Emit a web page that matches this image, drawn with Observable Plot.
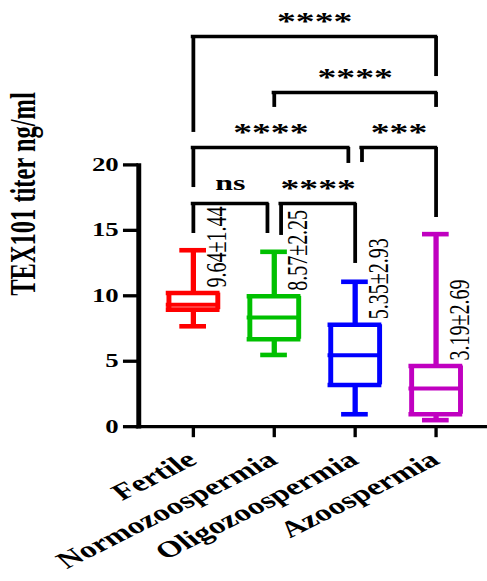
<!DOCTYPE html>
<html><head><meta charset="utf-8">
<script src="https://cdn.jsdelivr.net/npm/d3@7"></script>
<script src="https://cdn.jsdelivr.net/npm/@observablehq/plot@0.6"></script>
<style>
html,body{margin:0;padding:0;background:#fff;}
#chart{width:487px;height:581px;overflow:hidden;}
#chart svg{transform:scaleX(1.45);transform-origin:0 0;display:block;}
</style></head><body><div id="chart"></div>
<script>
// ---- data ----
const groups = ["Fertile", "Normozoospermia", "Oligozoospermia", "Azoospermia"];
const colors = ["#ff0000", "#00c000", "#0000ff", "#c000c0"];
const whiskerMin = [7.67, 5.48, 0.95, 0.50];
const q1 = [8.94, 6.68, 3.19, 0.95];
const median = [9.32, 8.34, 5.46, 2.92];
const q3 = [10.21, 9.96, 7.79, 4.64];
const whiskerMax = [13.48, 13.36, 11.07, 14.71];
const statLabels = ["9.64±1.44", "8.57±2.25", "5.35±2.93", "3.19±2.69"];
const yTicks = [0, 5, 10, 15, 20];
const yTitle = "TEX101 titer ng/ml";
const bracketFrom = ["Fertile", "Normozoospermia", "Fertile", "Oligozoospermia", "Fertile", "Normozoospermia"];
const bracketTo = ["Azoospermia", "Azoospermia", "Oligozoospermia", "Azoospermia", "Normozoospermia", "Oligozoospermia"];
const bracketLevel = [29.81, 25.53, 21.33, 21.33, 17.05, 17.05];
const legFromEnd = [22.48, 24.39, 18.27, 20.18, 14.76, 14.61];
const legToEnd = [26.75, 24.39, 20.11, 15.98, 14.76, 12.47];
const bracketText = ["****", "****", "****", "***", "ns", "****"];

// ---- layout ----
const S = 1.45;               // horizontal stretch of the reference image
const W = 487 / S, H = 581;
const xOpts = {type: "band", domain: groups, range: [95.2, 337.9], paddingInner: 0.396, paddingOuter: 0.373, align: 0.5, round: false};
const xs = Plot.scale({x: xOpts});
const bw = xs.bandwidth;
const center = g => xs.apply(g) + bw / 2;

const rows = groups.map((g, i) => ({group: g, min: whiskerMin[i], q1: q1[i], median: median[i], q3: q3[i], max: whiskerMax[i], label: statLabels[i]}));
const brackets = bracketFrom.map((f, i) => ({from: f, to: bracketTo[i], level: bracketLevel[i], legFrom: legFromEnd[i], legTo: legToEnd[i], text: bracketText[i]}));

const NUDGE = 4.7;
const bracketMarks = brackets.flatMap(b => {
  const nf = brackets.some(o => o !== b && o.level === b.level && o.to === b.from) ? NUDGE : 0;
  const nt = brackets.some(o => o !== b && o.level === b.level && o.from === b.to) ? -NUDGE : 0;
  const mid = (center(b.from) + nf + center(b.to) + nt) / 2 - center(b.from);
  const ns = b.text === "ns";
  return [
    Plot.ruleY([b], {y: "level", x1: "from", x2: "to", insetLeft: bw / 2 + nf - 1.3, insetRight: bw / 2 - nt - 1.3, strokeWidth: 3.3}),
    Plot.ruleX([b], {x: "from", y1: "level", y2: "legFrom", dx: nf, strokeWidth: 2.6}),
    Plot.ruleX([b], {x: "to", y1: "level", y2: "legTo", dx: nt, strokeWidth: 2.6}),
    Plot.text([b], {x: "from", y: "level", text: "text", dx: mid, dy: ns ? -14 : -6.5, lineAnchor: "bottom", fontSize: ns ? 22 : 26})
  ];
});

const capInset = 7.65;
const chart = Plot.plot({
  width: W, height: H,
  marginLeft: 95.2, marginRight: 0, marginTop: 164.4, marginBottom: 154.8,
  x: xOpts,
  y: {domain: [0, 20]},
  color: {domain: groups, range: colors},
  style: {fontFamily: "'Liberation Serif', 'Times New Roman', serif", fontWeight: "bold", background: "white", color: "black", overflow: "visible"},
  marks: [
    Plot.frame({anchor: "left", strokeWidth: 3.4}),
    Plot.ruleY([0], {strokeWidth: 3.3, insetLeft: -1.7}),
    Plot.axisY({ticks: yTicks, tickSize: 10.4, tickPadding: 3.4, fontSize: 18.5, strokeWidth: 3.3, label: null}),
    Plot.axisX({tickSize: 11, strokeWidth: 2.3, tickFormat: () => "", label: null}),
    Plot.text([yTitle], {frameAnchor: "left", dx: -79.4, rotate: -90, fontSize: 24.5}),
    Plot.text(groups, {x: d => d, frameAnchor: "bottom", dy: 36, dx: 3.5, rotate: -36, textAnchor: "end", lineAnchor: "bottom", fontSize: 23}),
    // whiskers
    Plot.ruleX(rows, {x: "group", y1: "min", y2: "q1", stroke: "group", strokeWidth: 3.65}),
    Plot.ruleX(rows, {x: "group", y1: "q3", y2: "max", stroke: "group", strokeWidth: 3.65}),
    Plot.tickY(rows, {x: "group", y: "min", stroke: "group", strokeWidth: 4.6, inset: capInset}),
    Plot.tickY(rows, {x: "group", y: "max", stroke: "group", strokeWidth: 4.6, inset: capInset}),
    // boxes
    Plot.ruleX(rows, {x: "group", y1: "q1", y2: "q3", dx: -bw / 2, stroke: "group", strokeWidth: 3.4}),
    Plot.ruleX(rows, {x: "group", y1: "q1", y2: "q3", dx: bw / 2, stroke: "group", strokeWidth: 3.4}),
    Plot.tickY(rows, {x: "group", y: "q1", stroke: "group", strokeWidth: 4.6, inset: -1.7}),
    Plot.tickY(rows, {x: "group", y: "q3", stroke: "group", strokeWidth: 4.6, inset: -1.7}),
    Plot.tickY(rows, {x: "group", y: "median", stroke: "group", strokeWidth: 4, inset: -1.7}),
    // mean ± SD labels
    Plot.text(rows, {x: "group", y: "q3", text: "label", rotate: -90, textAnchor: "start", lineAnchor: "middle", dx: 16, dy: -5.5, fontSize: 20, fontWeight: "normal"}),
    ...bracketMarks
  ]
});
document.getElementById("chart").append(chart);
</script>
</body></html>
